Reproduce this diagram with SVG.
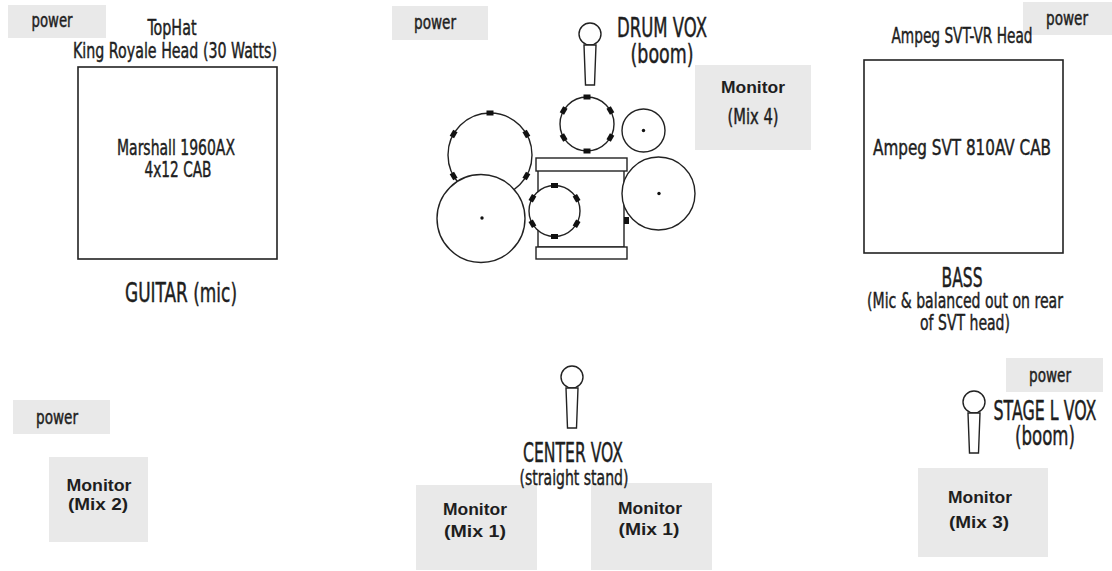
<svg xmlns="http://www.w3.org/2000/svg" xmlns:xlink="http://www.w3.org/1999/xlink" width="1112" height="571" viewBox="0 0 1112 571">
<style>
.bg{fill:#ffffff}
.gray{fill:#e9e9e9;stroke:none}
.box{fill:#ffffff;stroke:#222;stroke-width:1.6}
.drum{fill:#ffffff;stroke:#222;stroke-width:1.4}
.dot{fill:#111}
.lbl{font-family:"Liberation Sans Narrow","DejaVu Sans Condensed","Liberation Sans",sans-serif;font-stretch:condensed;fill:#1e1e1e;stroke:#1e1e1e;stroke-width:0.45;text-anchor:middle}
.mon{font-family:"Liberation Sans","DejaVu Sans",sans-serif;font-weight:bold;fill:#1e1e1e;text-anchor:middle;font-size:16px}
.pw{font-size:19px}
.s20{font-size:22px}
.s25{font-size:27px}
</style>
<defs>
<rect id="lug" x="-3.5" y="-2.5" width="7" height="5" fill="#111"/>
<g id="mic">
<circle cx="0" cy="0" r="11" fill="#fff" stroke="#222" stroke-width="1.4"/>
<polygon points="-6,11 6,11 4.5,51 -4.5,51" fill="#fff" stroke="#222" stroke-width="1.4"/>
</g>
</defs>
<rect class="bg" x="0" y="0" width="1112" height="571"/>

<g id="power-tl">
<rect class="gray" x="8" y="5" width="98" height="33"/>
<text class="lbl pw" x="52" y="27" textLength="41" lengthAdjust="spacingAndGlyphs">power</text>
</g>
<g id="power-tc">
<rect class="gray" x="392" y="6" width="96" height="34"/>
<text class="lbl pw" x="435" y="29" textLength="42" lengthAdjust="spacingAndGlyphs">power</text>
</g>
<g id="power-tr">
<rect class="gray" x="1023" y="2" width="89" height="33"/>
<text class="lbl pw" x="1067" y="25" textLength="42" lengthAdjust="spacingAndGlyphs">power</text>
</g>
<g id="power-bl">
<rect class="gray" x="13" y="400" width="97" height="34"/>
<text class="lbl pw" x="57" y="424" textLength="42" lengthAdjust="spacingAndGlyphs">power</text>
</g>
<g id="power-br">
<rect class="gray" x="1006" y="358" width="97" height="34"/>
<text class="lbl pw" x="1050" y="382" textLength="42" lengthAdjust="spacingAndGlyphs">power</text>
</g>

<g id="guitar">
<text class="lbl s20" x="172" y="35" textLength="49" lengthAdjust="spacingAndGlyphs">TopHat</text>
<text class="lbl s20" x="175" y="58" textLength="204" lengthAdjust="spacingAndGlyphs">King Royale Head (30 Watts)</text>
<rect class="box" x="78" y="67" width="199" height="192"/>
<text class="lbl s20" x="176" y="155" textLength="118" lengthAdjust="spacingAndGlyphs">Marshall 1960AX</text>
<text class="lbl s20" x="178" y="177" textLength="67" lengthAdjust="spacingAndGlyphs">4x12 CAB</text>
<text class="lbl s25" x="181" y="302" textLength="112" lengthAdjust="spacingAndGlyphs">GUITAR (mic)</text>
</g>

<g id="bass">
<text class="lbl s20" x="962" y="43" textLength="141" lengthAdjust="spacingAndGlyphs">Ampeg SVT-VR Head</text>
<rect class="box" x="864" y="60" width="199" height="193"/>
<text class="lbl s20" x="962" y="155" textLength="178" lengthAdjust="spacingAndGlyphs">Ampeg SVT 810AV CAB</text>
<text class="lbl s25" x="962" y="287" textLength="41" lengthAdjust="spacingAndGlyphs">BASS</text>
<text class="lbl s20" x="965" y="308" textLength="196" lengthAdjust="spacingAndGlyphs">(Mic &amp; balanced out on rear</text>
<text class="lbl s20" x="965" y="330" textLength="90" lengthAdjust="spacingAndGlyphs">of SVT head)</text>
</g>

<g id="drum-vox">
<use href="#mic" transform="translate(590 34)"/>
<text class="lbl s25" x="662" y="37" textLength="90" lengthAdjust="spacingAndGlyphs">DRUM VOX</text>
<text class="lbl s25" x="662" y="63" textLength="63" lengthAdjust="spacingAndGlyphs">(boom)</text>
</g>

<g id="drums">
<circle class="drum" cx="490" cy="155" r="42"/>
<circle class="drum" cx="481" cy="218.5" r="44"/>
<circle class="dot" cx="482" cy="218" r="1.7"/>
<use href="#lug" transform="translate(490 155) rotate(0) translate(0 -42)"/>
<use href="#lug" transform="translate(490 155) rotate(60) translate(0 -42)"/>
<use href="#lug" transform="translate(490 155) rotate(120) translate(0 -42)"/>
<use href="#lug" transform="translate(490 155) rotate(240) translate(0 -42)"/>
<use href="#lug" transform="translate(490 155) rotate(300) translate(0 -42)"/>
<rect class="drum" x="538" y="170" width="86" height="77"/>
<rect class="drum" x="536" y="158" width="91" height="13"/>
<rect class="drum" x="536" y="247" width="91" height="12"/>
<circle class="drum" cx="554.5" cy="211" r="25.5"/>
<use href="#lug" transform="translate(554.5 211) rotate(0) translate(0 -25.5)"/>
<use href="#lug" transform="translate(554.5 211) rotate(60) translate(0 -25.5)"/>
<use href="#lug" transform="translate(554.5 211) rotate(120) translate(0 -25.5)"/>
<use href="#lug" transform="translate(554.5 211) rotate(180) translate(0 -25.5)"/>
<use href="#lug" transform="translate(554.5 211) rotate(240) translate(0 -25.5)"/>
<use href="#lug" transform="translate(554.5 211) rotate(300) translate(0 -25.5)"/>
<circle class="drum" cx="587" cy="124" r="27"/>
<use href="#lug" transform="translate(587 124) rotate(0) translate(0 -27)"/>
<use href="#lug" transform="translate(587 124) rotate(60) translate(0 -27)"/>
<use href="#lug" transform="translate(587 124) rotate(120) translate(0 -27)"/>
<use href="#lug" transform="translate(587 124) rotate(180) translate(0 -27)"/>
<use href="#lug" transform="translate(587 124) rotate(240) translate(0 -27)"/>
<use href="#lug" transform="translate(587 124) rotate(300) translate(0 -27)"/>
<circle class="drum" cx="643.5" cy="130.5" r="21.5"/>
<circle class="dot" cx="643.5" cy="130.5" r="1.7"/>
<circle class="drum" cx="658.5" cy="193.5" r="36.5"/>
<circle class="dot" cx="659" cy="193.5" r="1.7"/>
<rect x="624" y="217" width="5" height="7" fill="#111"/>
</g>

<g id="monitor-4">
<rect class="gray" x="695" y="65" width="116" height="85"/>
<text class="mon" x="753" y="93" textLength="64" lengthAdjust="spacingAndGlyphs">Monitor</text>
<text class="lbl s20" x="753" y="124" textLength="51" lengthAdjust="spacingAndGlyphs">(Mix 4)</text>
</g>

<g id="center-vox">
<use href="#mic" transform="translate(572 377)"/>
<text class="lbl s25" x="573" y="462" textLength="100" lengthAdjust="spacingAndGlyphs">CENTER VOX</text>
</g>

<g id="monitor-1a">
<rect class="gray" x="416" y="485" width="121" height="85"/>
<text class="mon" x="475" y="515" textLength="64" lengthAdjust="spacingAndGlyphs">Monitor</text>
<text class="mon" x="475" y="537" textLength="62" lengthAdjust="spacingAndGlyphs">(Mix 1)</text>
</g>
<g id="monitor-1b">
<rect class="gray" x="591" y="483" width="121" height="87"/>
<text class="mon" x="650" y="514" textLength="64" lengthAdjust="spacingAndGlyphs">Monitor</text>
<text class="mon" x="649" y="535" textLength="61" lengthAdjust="spacingAndGlyphs">(Mix 1)</text>
</g>
<text class="lbl s20" x="574" y="485" textLength="109" lengthAdjust="spacingAndGlyphs">(straight stand)</text>

<g id="stage-l-vox">
<use href="#mic" transform="translate(974 402)"/>
<text class="lbl s25" x="1045" y="420" textLength="103" lengthAdjust="spacingAndGlyphs">STAGE L VOX</text>
<text class="lbl s25" x="1045" y="445" textLength="60" lengthAdjust="spacingAndGlyphs">(boom)</text>
</g>

<g id="monitor-3">
<rect class="gray" x="918" y="468" width="130" height="89"/>
<text class="mon" x="980" y="503" textLength="64" lengthAdjust="spacingAndGlyphs">Monitor</text>
<text class="mon" x="979" y="528" textLength="60" lengthAdjust="spacingAndGlyphs">(Mix 3)</text>
</g>

<g id="monitor-2">
<rect class="gray" x="49" y="457" width="99" height="85"/>
<text class="mon" x="99" y="491" textLength="65" lengthAdjust="spacingAndGlyphs">Monitor</text>
<text class="mon" x="98" y="510" textLength="60" lengthAdjust="spacingAndGlyphs">(Mix 2)</text>
</g>

<g id="connectors"></g>
</svg>
